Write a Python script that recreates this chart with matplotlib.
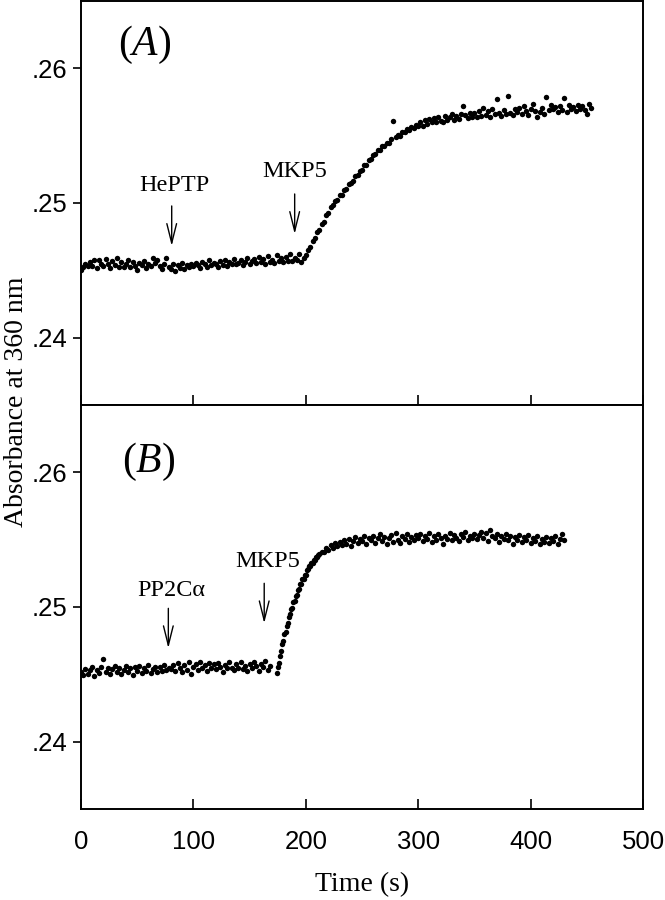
import numpy as np
import matplotlib
matplotlib.use("Agg")
import matplotlib.pyplot as plt

plt.rcParams['mathtext.fontset'] = 'custom'
plt.rcParams['mathtext.it'] = 'Liberation Serif:italic'
plt.rcParams['mathtext.rm'] = 'Liberation Serif'

# ---- panel A: HePTP then MKP5, sampled every 2 s from t = 0
a_base = [
    .24505, .24528, .24548, .24530, .24562, .24535, .24575, .24520, .24580, .24545,
    .24530, .24585, .24548, .24515, .24568, .24540, .24590, .24528, .24560, .24522,
    .24550, .24578, .24525, .24562, .24535, .24505, .24558, .24540, .24570, .24518,
    .24548, .24530, .24595, .24552, .24580, .24535, .24512, .24550, .24592, .24525,
    .24510, .24545, .24498, .24538, .24520, .24552, .24508, .24540, .24525, .24548,
    .24530, .24558, .24538, .24518, .24565, .24545, .24528, .24575, .24540, .24555,
    .24548, .24525, .24568, .24542, .24578, .24530, .24560, .24545, .24582, .24550,
    .24552, .24580, .24538, .24565, .24595, .24548, .24572, .24585, .24552, .24600,
    .24560, .24585, .24550, .24605, .24565, .24580, .24555, .24615, .24570, .24588,
    .24565, .24598, .24572, .24620, .24568, .24595, .24575, .24625, .24560, .24590,
]
a_rise = [
    .24612, .24648, .24672, .24718, .24740, .24785, .24802, .24845, .24862, .24910,
    .24925, .24968, .24985, .25018, .25025, .25058, .25062, .25098, .25105, .25140,
    .25148, .25165, .25198, .25205, .25238, .25245, .25280, .25285, .25318, .25325,
    .25355, .25362, .25390, .25395, .25420, .25425, .25448, .25445, .25478, .25610,
    .25490, .25505, .25498, .25530, .25525, .25548, .25542, .25565, .25555, .25582,
    .25570,
]
a_plat = [
    .25598, .25575, .25615, .25590, .25625, .25598, .25632, .25605, .25640, .25612,
    .25600, .25648, .25615, .25635, .25660, .25618, .25645, .25625, .25658, .25720,
    .25650, .25628, .25665, .25640, .25672, .25635, .25680, .25648, .25705, .25655,
    .25685, .25640, .25695, .25660, .25770, .25668, .25645, .25690, .25660, .25795,
    .25672, .25650, .25698, .25675, .25708, .25660, .25720, .25680, .25655, .25700,
    .25735, .25682, .25640, .25675, .25702, .25660, .25790, .25692, .25728, .25695,
    .25710, .25678, .25722, .25690, .25780, .25675, .25725, .25698, .25712, .25685,
    .25730, .25700, .25718, .25688, .25660, .25735, .25705,
]
a_abs = np.array(a_base + a_rise + a_plat)
a_time = 2.0 * np.arange(len(a_abs))

# ---- panel B: PP2Ca then MKP5
b_base = [  # t = 0 .. 168, every 2 s
    .24518, .24495, .24538, .24505, .24530, .24552, .24488, .24532, .24508, .24555,
    .24612, .24520, .24545, .24500, .24540, .24560, .24515, .24548, .24505, .24535,
    .24562, .24520, .24545, .24498, .24552, .24528, .24565, .24510, .24548, .24522,
    .24568, .24508, .24540, .24555, .24515, .24558, .24525, .24570, .24530, .24550,
    .24540, .24568, .24525, .24585, .24548, .24515, .24572, .24535, .24588, .24505,
    .24555, .24578, .24530, .24592, .24550, .24570, .24525, .24585, .24545, .24575,
    .24538, .24582, .24555, .24520, .24570, .24545, .24588, .24550, .24530, .24580,
    .24545, .24590, .24538, .24565, .24525, .24578, .24550, .24595, .24560, .24528,
    .24580, .24555, .24598, .24535, .24565,
]
b_rise = [  # t = 174 .. 211, every 1 s
    .24510, .24552, .24585, .24638, .24670, .24722, .24750, .24798, .24815, .24862,
    .24880, .24928, .24945, .24985, .24995, .25035, .25045, .25082, .25092, .25128,
    .25132, .25168, .25170, .25205, .25205, .25240, .25240, .25272, .25280, .25305,
    .25302, .25330, .25328, .25352, .25350, .25372, .25368, .25388,
]
b_plat = [  # t = 212 .. 430, every 2 s
    .25392, .25410, .25405, .25438, .25425, .25462, .25440, .25478, .25450, .25485,
    .25462, .25498, .25470, .25505, .25455, .25492, .25520, .25475, .25505, .25488,
    .25530, .25470, .25512, .25495, .25525, .25478, .25515, .25545, .25490, .25520,
    .25468, .25510, .25535, .25485, .25550, .25500, .25478, .25525, .25505, .25540,
    .25482, .25520, .25498, .25535, .25510, .25545, .25490, .25528, .25505, .25552,
    .25480, .25525, .25500, .25540, .25515, .25470, .25530, .25508, .25548, .25495,
    .25535, .25512, .25488, .25540, .25518, .25555, .25500, .25530, .25512, .25545,
    .25505, .25538, .25560, .25515, .25548, .25490, .25575, .25530, .25510, .25545,
    .25480, .25525, .25505, .25540, .25495, .25528, .25470, .25518, .25500, .25535,
    .25485, .25520, .25498, .25532, .25475, .25510, .25490, .25525, .25468, .25505,
    .25485, .25520, .25478, .25512, .25490, .25528, .25470, .25508, .25540, .25495,
]
b_time = np.concatenate([0 + 2.0 * np.arange(len(b_base)),
                         174 + 1.0 * np.arange(len(b_rise)),
                         212 + 2.0 * np.arange(len(b_plat))])
b_abs = np.array(b_base + b_rise + b_plat)

# (label, text x, text y, arrow x, arrow top, arrow tip)
notes_a = [('HePTP', 82.7, 0.25128, 80.7, 0.24978, 0.24681),
           ('MKP5', 190.4, 0.25237, 190.1, 0.25067, 0.24770)]
notes_b = [('PP2C\u03b1', 80.0, 0.25126, 77.7, 0.24990, 0.24694),
           ('MKP5', 166.0, 0.25336, 163.0, 0.25176, 0.24879)]

fig = plt.figure(figsize=(6.65, 9), dpi=100)
left, width = 81 / 665, 562 / 665
h = 404 / 900
ax_a = fig.add_axes([left, 1 - 405 / 900, width, h])
ax_b = fig.add_axes([left, 1 - 809 / 900, width, h])

sans = 'Liberation Sans'
serif = 'Liberation Serif'

for ax, t, y, name, notes, lx, ly in [(ax_a, a_time, a_abs, 'A', notes_a, 0.066, 0.891),
                                      (ax_b, b_time, b_abs, 'B', notes_b, 0.073, 0.859)]:
    ax.plot(t, y, 'o', color='black', ms=3.9, mew=0)
    ax.set_xlim(0, 500)
    ax.set_ylim(0.235, 0.265)
    ax.set_xticks([0, 100, 200, 300, 400, 500])
    ax.set_yticks([0.24, 0.25, 0.26])
    ax.set_yticklabels(['.24', '.25', '.26'])
    for sp in ax.spines.values():
        sp.set_linewidth(1.4)
    ax.tick_params(axis='x', direction='in', length=7, width=1.2, pad=15,
                   labelsize=18.5)
    ax.tick_params(axis='y', direction='out', length=5.8, width=1.2, pad=4,
                   labelsize=18.5)
    for lab in ax.get_xticklabels() + ax.get_yticklabels():
        lab.set_family(sans)
    ax.text(lx, ly, '(' + r'$\mathit{' + name + '}$' + ')',
            transform=ax.transAxes, ha='left', va='center',
            fontsize=30, family=serif)
    for label, tx, ty, axx, top, tip in notes:
        ax.text(tx, ty, label, ha='center', va='center', fontsize=17.5,
                family=serif)
        ax.annotate('', xy=(axx, tip), xytext=(axx, top),
                    arrowprops=dict(arrowstyle='->, head_length=0.8, head_width=0.2',
                                    lw=1.0, color='black', shrinkA=0, shrinkB=0,
                                    mutation_scale=17.5))

ax_a.tick_params(axis='x', labelbottom=False)

fig.text(362 / 665, 1 - 885 / 900, 'Time (s)', ha='center', va='center',
         fontsize=20, family=serif)
fig.text(17 / 665, 1 - 402 / 900, 'Absorbance at 360 nm', ha='center',
         va='center', rotation=90, fontsize=20, family=serif)

fig.savefig('out.png', dpi=100)
